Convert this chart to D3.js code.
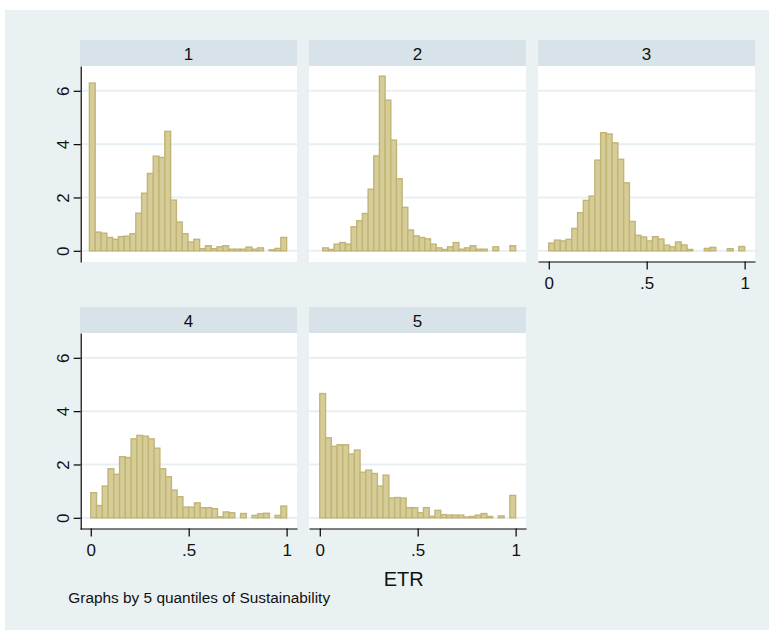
<!DOCTYPE html>
<html>
<head>
<meta charset="utf-8">
<script src="https://cdn.jsdelivr.net/npm/d3@7"></script>
<style>
  html, body { margin: 0; padding: 0; background: #ffffff; }
  svg { display: block; font-family: "Liberation Sans", Arial, sans-serif; }
</style>
</head>
<body>
<svg id="chart" width="769" height="630"></svg>
<script>
// Histogram densities of ETR, one array per quantile group (34 equal-width bins each)
const groupLabels = ["1", "2", "3", "4", "5"];
const binCount = 34;
// data range (min, max of ETR) covered by the bins in each group
const binRanges = [[-0.007, 1], [0.015, 1], [0, 1], [0, 1], [0, 1]];

const density1 = [6.29, 0.70, 0.66, 0.50, 0.43, 0.53, 0.55, 0.64, 1.41, 2.16, 2.90, 3.55, 3.50, 4.48, 1.90, 1.08, 0.64,
                  0.33, 0.43, 0.08, 0.19, 0.08, 0.15, 0.19, 0.06, 0.06, 0.06, 0.14, 0.06, 0.11, 0, 0.04, 0.09, 0.50];
const density2 = [0.11, 0.05, 0.25, 0.31, 0.25, 0.90, 1.13, 1.40, 2.31, 3.56, 6.55, 5.65, 4.15, 2.70, 1.63, 0.78, 0.56,
                  0.50, 0.45, 0.25, 0.11, 0.05, 0.15, 0.31, 0.06, 0.11, 0.19, 0.06, 0.06, 0, 0.15, 0, 0, 0.19];
const density3 = [0.29, 0.40, 0.37, 0.43, 0.84, 1.43, 1.89, 2.05, 3.40, 4.43, 4.38, 4.05, 3.43, 2.55, 1.10, 0.58, 0.52,
                  0.37, 0.53, 0.44, 0.21, 0.15, 0.33, 0.22, 0.05, 0, 0, 0.09, 0.13, 0, 0, 0.08, 0, 0.16];
const density4 = [0.94, 0.46, 1.19, 1.84, 1.63, 2.29, 2.26, 2.96, 3.09, 3.06, 2.96, 2.61, 1.84, 1.54, 1.04, 0.79, 0.40,
                  0.40, 0.56, 0.38, 0.38, 0.34, 0.04, 0.22, 0.19, 0, 0.16, 0, 0.09, 0.15, 0.17, 0, 0.09, 0.44];
const density5 = [4.66, 3.00, 2.68, 2.74, 2.74, 2.39, 2.54, 1.71, 1.79, 1.66, 1.19, 1.60, 0.74, 0.76, 0.74, 0.38, 0.38,
                  0.19, 0.38, 0.06, 0.28, 0.12, 0.10, 0.10, 0.10, 0.03, 0.05, 0.10, 0.16, 0.05, 0, 0.07, 0, 0.84];
const densities = [density1, density2, density3, density4, density5];

const xTicks = [0, 0.5, 1];
const xTickLabels = ["0", ".5", "1"];
const yTicks = [0, 2, 4, 6];
const yTickLabels = ["0", "2", "4", "6"];
const xTitle = "ETR";
const note = "Graphs by 5 quantiles of Sustainability";

// ---- layout ----
const colX = [80, 309, 538];
const rowY = [40, 307];
const panelW = 217, stripH = 26, plotH = 196;
const xDomain = [-0.055, 1.053];
const yDomain = [-0.42, 6.93];
const labelSize = 17;

const colors = {
  outer: "#eaf1f3",
  strip: "#d7e3e8",
  grid: "#e7eff2",
  barFill: "#d5cc97",
  barStroke: "#c1b576",
  text: "#111111"
};

const svg = d3.select("#chart");

svg.append("rect")
  .attr("x", 5).attr("y", 10)
  .attr("width", 769 - 5).attr("height", 630 - 10)
  .attr("fill", colors.outer);

const panels = groupLabels.map((lab, i) => ({
  label: lab,
  values: densities[i],
  range: binRanges[i],
  col: i % 3,
  row: Math.floor(i / 3)
}));

panels.forEach(p => {
  const x0 = colX[p.col];
  const top = rowY[p.row];
  const plotTop = top + stripH;
  const plotBottom = plotTop + plotH;

  const x = d3.scaleLinear().domain(xDomain).range([x0, x0 + panelW]);
  const y = d3.scaleLinear().domain(yDomain).range([plotBottom, plotTop]);

  const g = svg.append("g");

  // strip with group label
  g.append("rect")
    .attr("x", x0).attr("y", top)
    .attr("width", panelW).attr("height", stripH)
    .attr("fill", colors.strip);
  g.append("text")
    .attr("x", x0 + panelW / 2).attr("y", top + 19.5)
    .attr("text-anchor", "middle")
    .attr("font-size", labelSize)
    .attr("fill", colors.text)
    .text(p.label);

  // plot region
  g.append("rect")
    .attr("x", x0).attr("y", plotTop)
    .attr("width", panelW).attr("height", plotH)
    .attr("fill", "#ffffff");

  // horizontal grid lines
  g.selectAll("line.grid")
    .data(yTicks)
    .join("line")
    .attr("class", "grid")
    .attr("x1", x0).attr("x2", x0 + panelW)
    .attr("y1", d => y(d)).attr("y2", d => y(d))
    .attr("stroke", colors.grid)
    .attr("stroke-width", 2);

  // bars
  const [lo, hi] = p.range;
  const bw = (hi - lo) / binCount;
  const bins = p.values.map((v, i) => ({ x0: lo + i * bw, x1: lo + (i + 1) * bw, v }));
  g.selectAll("rect.bar")
    .data(bins.filter(b => b.v > 0))
    .join("rect")
    .attr("class", "bar")
    .attr("x", b => x(b.x0))
    .attr("width", b => x(b.x1) - x(b.x0))
    .attr("y", b => y(b.v))
    .attr("height", b => y(0) - y(b.v))
    .attr("fill", colors.barFill)
    .attr("stroke", colors.barStroke)
    .attr("stroke-width", 1.4);

  // y axis on the first column
  if (p.col === 0) {
    const ya = g.append("g")
      .attr("transform", `translate(${x0 + 0.7},0)`)
      .call(d3.axisLeft(y).tickValues(yTicks)
        .tickFormat((d, i) => yTickLabels[i])
        .tickSize(7).tickSizeOuter(0));
    ya.select(".domain").attr("stroke", "#000").attr("stroke-width", 1.2);
    ya.selectAll(".tick line").attr("stroke", "#000").attr("stroke-width", 1.2);
    ya.selectAll(".tick text")
      .attr("font-size", labelSize)
      .attr("font-family", "Liberation Sans, Arial, sans-serif")
      .attr("fill", colors.text)
      .attr("text-anchor", "middle")
      .attr("dy", null)
      .attr("x", 0)
      .attr("y", -12.2)
      .attr("transform", "rotate(-90)");
  }

  // x axis on the lowest panel of each column
  if (p.row === 1 || p.col === 2) {
    const xa = g.append("g")
      .attr("transform", `translate(0,${plotBottom - 0.5})`)
      .call(d3.axisBottom(x).tickValues(xTicks)
        .tickFormat((d, i) => xTickLabels[i])
        .tickSize(8).tickSizeOuter(0));
    xa.select(".domain").attr("stroke", "#000").attr("stroke-width", 1.2);
    xa.selectAll(".tick line").attr("stroke", "#000").attr("stroke-width", 1.2);
    xa.selectAll(".tick text")
      .attr("font-size", labelSize)
      .attr("font-family", "Liberation Sans, Arial, sans-serif")
      .attr("fill", colors.text)
      .attr("dy", null)
      .attr("y", 27.5);
  }
});

// axis title and note
svg.append("text")
  .attr("x", 403.7).attr("y", 586)
  .attr("text-anchor", "middle")
  .attr("font-size", 20)
  .attr("fill", colors.text)
  .text(xTitle);

svg.append("text")
  .attr("x", 68.3).attr("y", 603.3)
  .attr("font-size", 15.4)
  .attr("fill", colors.text)
  .text(note);
</script>
</body>
</html>
